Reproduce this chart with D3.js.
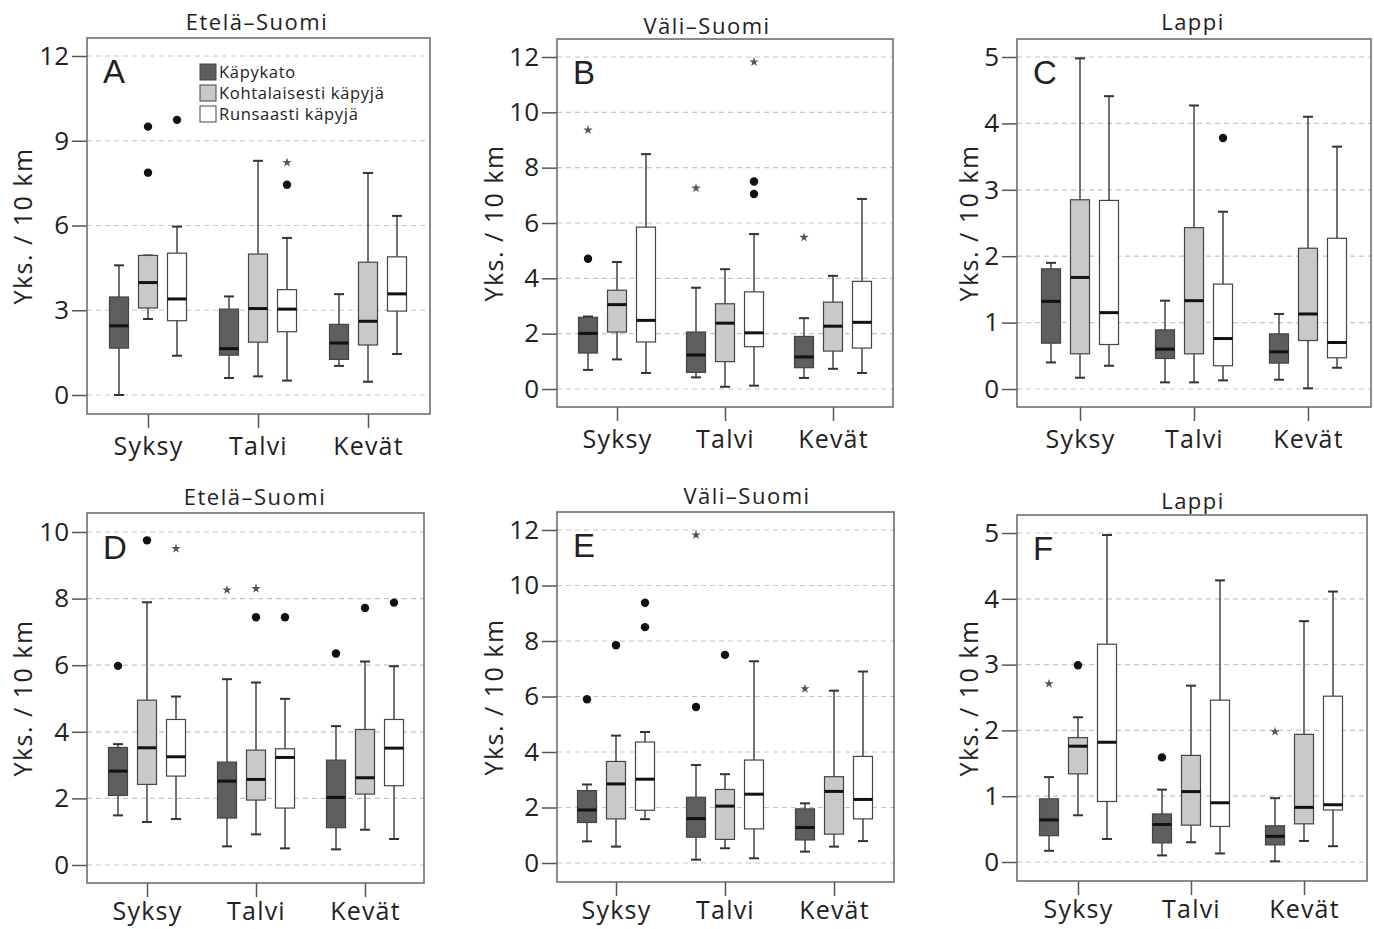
<!DOCTYPE html>
<html><head><meta charset="utf-8">
<script src="https://cdn.jsdelivr.net/npm/d3@7"></script>
<style>
body{margin:0;background:#fff;}
svg{display:block;}
text{font-family:"Open Sans","Noto Sans",sans-serif;fill:#222;}
</style></head>
<body>
<svg id="chart" width="1374" height="929"></svg>
<script>
// ---------- DATA ----------
const seasons = ["Syksy", "Talvi", "Kevät"];
const groups = ["Käpykato", "Kohtalaisesti käpyjä", "Runsaasti käpyjä"];
const groupFill = ["#5e5e5e", "#c9c9c9", "#ffffff"];
const yLabel = "Yks. / 10 km";
const titles = ["Etelä–Suomi", "Väli–Suomi", "Lappi", "Etelä–Suomi", "Väli–Suomi", "Lappi"];
const letters = ["A", "B", "C", "D", "E", "F"];
const ticksA = [0, 3, 6, 9, 12];
const ticksB = [0, 2, 4, 6, 8, 10, 12];
const ticksC = [0, 1, 2, 3, 4, 5];
const ticksD = [0, 2, 4, 6, 8, 10];
const ticksE = [0, 2, 4, 6, 8, 10, 12];
const ticksF = [0, 1, 2, 3, 4, 5];

// rows in order season x group: [low whisker, Q1, median, Q3, high whisker]
const statsA = [
  [0.00, 1.66, 2.45, 3.47, 4.59], [2.69, 3.08, 3.98, 4.94, 4.94], [1.39, 2.63, 3.40, 5.02, 5.96],
  [0.60, 1.41, 1.64, 3.04, 3.49], [0.66, 1.87, 3.06, 4.99, 8.29], [0.51, 2.24, 3.04, 3.73, 5.56],
  [1.03, 1.26, 1.84, 2.50, 3.57], [0.47, 1.77, 2.61, 4.70, 7.86], [1.45, 2.97, 3.58, 4.89, 6.34]
];
const statsB = [
  [0.69, 1.30, 2.01, 2.59, 2.62], [1.07, 2.06, 3.05, 3.57, 4.59], [0.58, 1.70, 2.48, 5.85, 8.49],
  [0.42, 0.60, 1.23, 2.06, 3.66], [0.08, 0.99, 2.38, 3.08, 4.33], [0.12, 1.53, 2.03, 3.51, 5.60],
  [0.40, 0.77, 1.16, 1.90, 2.56], [0.73, 1.37, 2.27, 3.14, 4.09], [0.58, 1.48, 2.41, 3.89, 6.87]
];
const statsC = [
  [0.40, 0.69, 1.32, 1.81, 1.90], [0.17, 0.53, 1.68, 2.85, 4.98], [0.35, 0.67, 1.15, 2.84, 4.41],
  [0.10, 0.46, 0.60, 0.89, 1.33], [0.10, 0.53, 1.33, 2.43, 4.27], [0.13, 0.35, 0.76, 1.58, 2.67],
  [0.14, 0.39, 0.56, 0.83, 1.13], [0.01, 0.73, 1.13, 2.12, 4.10], [0.32, 0.47, 0.70, 2.27, 3.65]
];
const statsD = [
  [1.49, 2.09, 2.82, 3.53, 3.63], [1.29, 2.42, 3.52, 4.95, 7.89], [1.38, 2.67, 3.25, 4.37, 5.06],
  [0.56, 1.41, 2.52, 3.09, 5.58], [0.92, 1.95, 2.57, 3.45, 5.48], [0.50, 1.71, 3.23, 3.49, 4.99],
  [0.47, 1.12, 2.03, 3.15, 4.17], [1.06, 2.13, 2.62, 4.07, 6.11], [0.78, 2.38, 3.51, 4.37, 5.97]
];
const statsE = [
  [0.78, 1.46, 1.91, 2.61, 2.83], [0.59, 1.59, 2.85, 3.66, 4.59], [1.58, 1.90, 3.02, 4.36, 4.72],
  [0.12, 0.93, 1.60, 2.37, 3.53], [0.53, 0.85, 2.05, 2.65, 3.20], [0.17, 1.23, 2.48, 3.71, 7.27],
  [0.41, 0.83, 1.28, 1.95, 2.15], [0.59, 1.04, 2.58, 3.11, 6.21], [0.79, 1.59, 2.29, 3.84, 6.90]
];
const statsF = [
  [0.17, 0.40, 0.64, 0.96, 1.29], [0.71, 1.34, 1.76, 1.89, 2.20], [0.35, 0.92, 1.82, 3.31, 4.97],
  [0.10, 0.29, 0.57, 0.73, 1.10], [0.30, 0.56, 1.07, 1.62, 2.68], [0.13, 0.54, 0.90, 2.46, 4.28],
  [0.01, 0.26, 0.39, 0.55, 0.97], [0.32, 0.58, 0.83, 1.94, 3.66], [0.24, 0.79, 0.87, 2.52, 4.11]
];
// outliers: [season index, group index, value, "o" = outlier, "*" = extreme]
const outA = [[0, 1, 9.50, "o"], [0, 1, 7.87, "o"], [0, 2, 9.74, "o"], [1, 2, 7.44, "o"], [1, 2, 8.23, "*"]];
const outB = [[0, 0, 4.71, "o"], [0, 0, 9.36, "*"], [1, 0, 7.26, "*"], [1, 2, 7.50, "o"], [1, 2, 7.05, "o"], [1, 2, 11.82, "*"], [2, 0, 5.48, "*"]];
const outC = [[1, 2, 3.78, "o"]];
const outD = [[0, 0, 5.98, "o"], [0, 1, 9.75, "o"], [0, 2, 9.50, "*"], [1, 0, 8.26, "*"], [1, 1, 7.44, "o"], [1, 1, 8.30, "*"], [1, 2, 7.44, "o"], [2, 0, 6.35, "o"], [2, 1, 7.72, "o"], [2, 2, 7.88, "o"]];
const outE = [[0, 0, 5.90, "o"], [0, 1, 7.85, "o"], [0, 2, 9.38, "o"], [0, 2, 8.50, "o"], [1, 0, 5.62, "o"], [1, 0, 11.82, "*"], [1, 1, 7.50, "o"], [2, 0, 6.28, "*"]];
const outF = [[0, 0, 2.71, "*"], [0, 1, 2.99, "o"], [1, 0, 1.59, "o"], [2, 0, 1.98, "*"]];

// ---------- LAYOUT (pixels) ----------
const layout = [
  {frame: [87, 38, 430, 414], y0: 395, yT: 56, cx: [148, 368], tx: 257, ty: 30, pad: 9},
  {frame: [557, 39, 893, 407], y0: 389, yT: 57, cx: [617, 833], tx: 707, ty: 34, pad: 9},
  {frame: [1017, 39, 1371, 407], y0: 389, yT: 57, cx: [1080, 1308], tx: 1193, ty: 30, pad: 9},
  {frame: [87, 513, 424, 883], y0: 865, yT: 532, cx: [147, 365], tx: 255, ty: 505, pad: 5},
  {frame: [557, 512, 894, 882], y0: 863, yT: 530, cx: [616, 834], tx: 747, ty: 504, pad: 5},
  {frame: [1017, 515, 1367, 881], y0: 862, yT: 533, cx: [1078, 1304], tx: 1193, ty: 509, pad: 5}
];
const panels = [
  {stats: statsA, out: outA, ticks: ticksA},
  {stats: statsB, out: outB, ticks: ticksB},
  {stats: statsC, out: outC, ticks: ticksC},
  {stats: statsD, out: outD, ticks: ticksD},
  {stats: statsE, out: outE, ticks: ticksE},
  {stats: statsF, out: outF, ticks: ticksF}
];
const yLabelX = [22, 493, 968];

const svg = d3.select("#chart");
const boxW = 19, capW = 10;
const FF = '"Open Sans","Noto Sans",sans-serif';

panels.forEach((p, i) => {
  const L = layout[i];
  const [fl, ft, fr, fb] = L.frame;
  const g = svg.append("g");
  const y = d3.scaleLinear().domain([0, p.ticks[p.ticks.length - 1]]).range([L.y0, L.yT]);
  const x = d3.scalePoint().domain(seasons).range(L.cx);
  const off = d3.scalePoint().domain(groups).range([-29, 29]);

  // gridlines
  g.append("g").selectAll("line").data(p.ticks).join("line")
    .attr("x1", fl).attr("x2", fr).attr("y1", d => y(d)).attr("y2", d => y(d))
    .attr("stroke", "#c4c4c4").attr("stroke-width", 1.2).attr("stroke-dasharray", "5,4");

  // y axis
  const ya = d3.axisLeft(y).tickValues(p.ticks).tickSize(15).tickPadding(3).tickFormat(d3.format("d"));
  const yg = g.append("g").attr("transform", `translate(${fl},0)`).call(ya);
  yg.select(".domain").remove();
  yg.selectAll(".tick line").attr("stroke", "#555").attr("stroke-width", 1.5);
  yg.selectAll(".tick text").attr("font-size", 26).attr("fill", "#222").style("font-family", FF);

  // x axis
  const xa = d3.axisBottom(x).tickSize(14).tickPadding(L.pad);
  const xg = g.append("g").attr("transform", `translate(0,${fb})`).call(xa);
  xg.select(".domain").remove();
  xg.selectAll(".tick line").attr("stroke", "#555").attr("stroke-width", 1.5);
  xg.selectAll(".tick text").attr("font-size", 25).attr("fill", "#222")
    .style("font-family", FF).style("letter-spacing", "1.2px");

  // boxes
  const items = [];
  seasons.forEach((s, si) => groups.forEach((gr, gi) => {
    const v = p.stats[si * 3 + gi];
    items.push({s, gr, gi, low: v[0], q1: v[1], med: v[2], q3: v[3], high: v[4]});
  }));
  const bx = g.append("g").selectAll("g").data(items).join("g")
    .attr("transform", d => `translate(${x(d.s) + off(d.gr)},0)`);
  bx.append("line").attr("x1", 0).attr("x2", 0).attr("y1", d => y(d.high)).attr("y2", d => y(d.q3))
    .attr("stroke", "#444").attr("stroke-width", 1.5);
  bx.append("line").attr("x1", 0).attr("x2", 0).attr("y1", d => y(d.q1)).attr("y2", d => y(d.low))
    .attr("stroke", "#444").attr("stroke-width", 1.5);
  bx.append("line").attr("x1", -capW / 2).attr("x2", capW / 2).attr("y1", d => y(d.high)).attr("y2", d => y(d.high))
    .attr("stroke", "#333").attr("stroke-width", 2);
  bx.append("line").attr("x1", -capW / 2).attr("x2", capW / 2).attr("y1", d => y(d.low)).attr("y2", d => y(d.low))
    .attr("stroke", "#333").attr("stroke-width", 2);
  bx.append("rect").attr("x", -boxW / 2).attr("width", boxW)
    .attr("y", d => y(d.q3)).attr("height", d => y(d.q1) - y(d.q3))
    .attr("fill", d => groupFill[d.gi]).attr("stroke", "#444").attr("stroke-width", 1.2);
  bx.append("line").attr("x1", -boxW / 2).attr("x2", boxW / 2).attr("y1", d => y(d.med)).attr("y2", d => y(d.med))
    .attr("stroke", "#111").attr("stroke-width", 3);

  // outliers
  const og = g.append("g");
  og.selectAll("circle").data(p.out.filter(d => d[3] === "o")).join("circle")
    .attr("cx", d => x(seasons[d[0]]) + off(groups[d[1]])).attr("cy", d => y(d[2]))
    .attr("r", 4.2).attr("fill", "#111");
  og.selectAll("path").data(p.out.filter(d => d[3] === "*")).join("path")
    .attr("d", d3.symbol().type(d3.symbolStar).size(28))
    .attr("transform", d => `translate(${x(seasons[d[0]]) + off(groups[d[1]])},${y(d[2])})`)
    .attr("fill", "#555");

  // frame
  g.append("rect").attr("x", fl).attr("y", ft).attr("width", fr - fl).attr("height", fb - ft)
    .attr("fill", "none").attr("stroke", "#666").attr("stroke-width", 1.5);

  // title
  g.append("text").attr("x", L.tx).attr("y", L.ty).attr("text-anchor", "middle")
    .attr("font-size", 22).style("letter-spacing", "1.5px").text(titles[i]);
  // panel letter
  g.append("text").attr("x", fl + 16).attr("y", L.yT + 27).attr("font-size", 33)
    .style("font-family", '"Liberation Sans",Arial,sans-serif').attr("fill", "#000").text(letters[i]);
  // y label
  const lx = yLabelX[i % 3], ly = (ft + fb) / 2;
  g.append("text").attr("transform", `translate(${lx},${ly}) rotate(-90)`)
    .attr("text-anchor", "middle").attr("dominant-baseline", "central")
    .attr("font-size", 25).style("letter-spacing", "1.5px").text(yLabel);
});

// legend in panel A
const lg = svg.append("g").attr("transform", "translate(200,64)");
groups.forEach((gr, gi) => {
  const row = lg.append("g").attr("transform", `translate(0,${gi * 21})`);
  row.append("rect").attr("width", 16).attr("height", 16).attr("fill", groupFill[gi])
    .attr("stroke", "#444").attr("stroke-width", 1);
  row.append("text").attr("x", 19).attr("y", 13.5).attr("font-size", 16.5)
    .style("letter-spacing", "0.7px").text(gr);
});
</script>
</body></html>
